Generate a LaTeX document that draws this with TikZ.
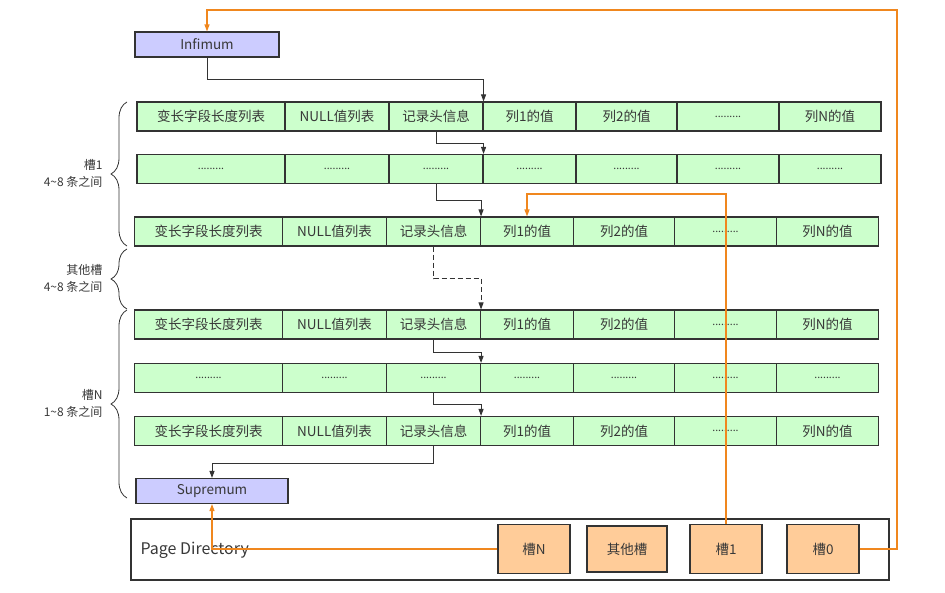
\documentclass[tikz,border=0pt]{standalone}
\usepackage{fontspec}
\setmainfont{Noto Sans CJK SC}[Color=383838]
\usetikzlibrary{arrows.meta,decorations.pathreplacing}
\definecolor{cellgreen}{RGB}{204,255,204}
\definecolor{boxpurple}{RGB}{204,204,255}
\definecolor{slotorange}{RGB}{255,204,153}
\definecolor{linkorange}{RGB}{240,135,30}
\definecolor{edgegray}{RGB}{51,51,51}
\newcommand{\celldots}{{\fontsize{10.5}{12}\selectfont .........}}

\begin{document}
\begin{tikzpicture}
        [x=1pt,y=-1pt,
         every node/.style={font=\fontsize{13.5}{15}\selectfont},
         cell/.style={draw=edgegray,line width=1.1pt,fill=cellgreen,minimum height=29pt,inner sep=0pt},
         endbox/.style={draw=edgegray,line width=1.1pt,fill=boxpurple,minimum height=25pt,inner sep=0pt},
         slotbox/.style={draw=edgegray,line width=1.1pt,fill=slotorange,minimum width=72pt,minimum height=49pt,inner sep=0pt},
         link/.style={draw=edgegray,line width=1pt,-{Triangle[length=7pt,width=5pt,fill=edgegray]}},
         slotlink/.style={draw=linkorange,line width=1.3pt,-{Triangle[length=7pt,width=5pt,fill=linkorange]}},
         slotbrace/.style={draw=edgegray,line width=0.8pt,decorate,decoration={brace,amplitude=16pt}},
         bracelabel/.style={anchor=east,align=right,font=\fontsize{12}{17}\selectfont}]
        \useasboundingbox (0,0) rectangle (945,593);

        % Infimum / Supremum
        \node[endbox,minimum width=144pt] (Inf) at (207,44.5) {Infimum};
        \node[endbox,minimum width=152pt] (Sup) at (212,491)  {Supremum};

        % record rows
        \foreach \r/\y/\dx/\full in {1/116.5/0/1, 2/169/0/0, 3/231.5/-2.5/1, 4/324.5/-2.5/1, 5/378/-2.5/0, 6/431/-2.5/1}
          \foreach \c/\xa/\xb/\txt in {1/137/285/变长字段长度列表, 2/285/389/NULL值列表, 3/389/483/记录头信息,
                                      4/483/576/列1的值, 5/576/677/列2的值, 6/677/779/\celldots, 7/779/881/列N的值}
            \node[cell,minimum width={(\xb-\xa)*1pt}] (R\r-\c) at ({(\xa+\xb)/2+\dx},\y)
              {\ifnum\full=1 \txt\else\celldots\fi};

        % next-record links
        \draw[link] (Inf.south)  -- ++(0,22) -| (R1-3.north east);
        \draw[link] (R1-3.south) -- ++(0,12) -| (R2-3.north east);
        \draw[link] (R2-3.south) -- ++(0,16) -| (R3-3.north east);
        \draw[link,dash pattern=on 5pt off 3pt] (R3-3.south) -- ++(0,32) -| (R4-3.north east);
        \draw[link] (R4-3.south) -- ++(0,13) -| (R5-3.north east);
        \draw[link] (R5-3.south) -- ++(0,11) -| (R6-3.north east);
        \draw[link] (R6-3.south) -- ++(0,17) -| (Sup.north);

        % Page Directory
        \node[draw=edgegray,line width=1.1pt,minimum width=758pt,minimum height=61pt] (PD) at (510,549.5) {};
        \node[anchor=west,font=\fontsize{16}{18}\selectfont] (PDtext) at (137,550) {Page Directory};
        \node[slotbox] (SN) at (534,549) {槽N};
        \node[slotbox,minimum width=80pt,minimum height=46pt] (SO) at (627,549) {其他槽};
        \node[slotbox] (S1) at (726,549) {槽1};
        \node[slotbox] (S0) at (823,549)   {槽0};

        % slot pointers
        \coordinate (Top) at (897,10);
        \coordinate (Bend) at (726,194);
        \draw[slotlink] (S0.east) -| (Top) -| (Inf.north);
        \draw[slotlink] (S1.north) -- (Bend) -| (R3-4.north);
        \draw[slotlink] (SN.west) -| (Sup.south);

        % slot groups
        \draw[slotbrace] (127,246) -- (127,102);
        \draw[slotbrace] (127,309) -- (127,249);
        \draw[slotbrace] (127,498) -- (127,310);
        \node[bracelabel] (L1) at (106,173.5) {槽1\\4\textasciitilde 8 条之间};
        \node[bracelabel] (LO) at (106,278.5) {其他槽\\4\textasciitilde 8 条之间};
        \node[bracelabel] (LN) at (106,403.5) {槽N\\1\textasciitilde 8 条之间};
\end{tikzpicture}
\end{document}
